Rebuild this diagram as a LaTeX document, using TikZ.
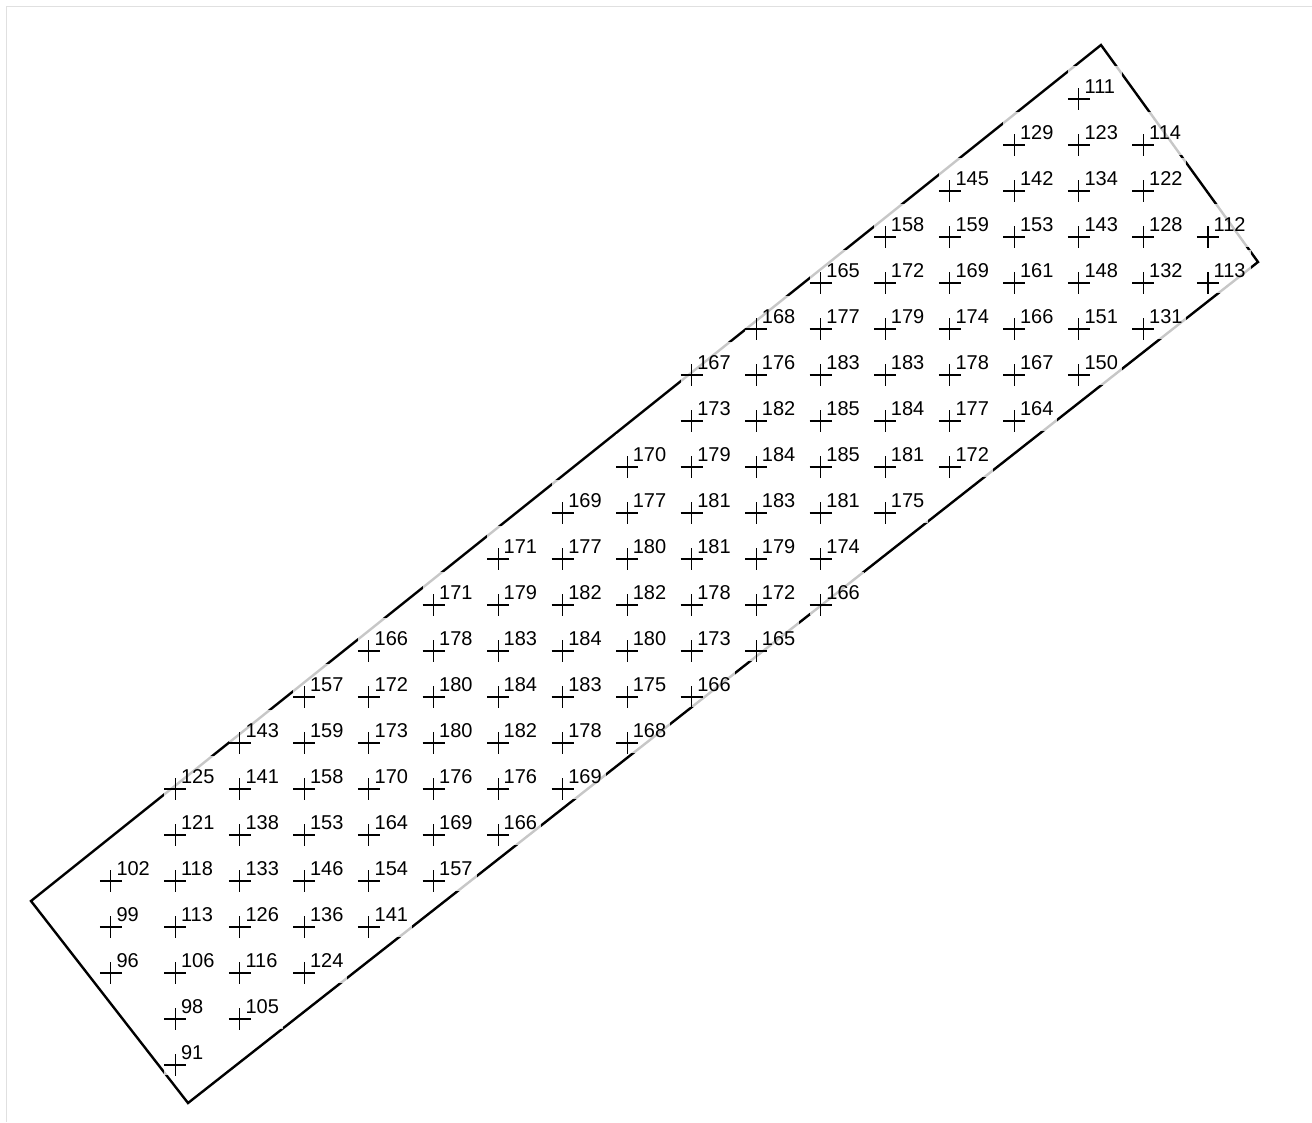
\documentclass[tikz,border=0pt]{standalone}
\usepackage{fontspec}
\setmainfont{Liberation Sans}
\begin{document}
\begin{tikzpicture}[x=1pt,y=-1pt,
  framecol/.style={draw=black!12,line width=1pt},
  border/.style={draw=black,line width=2.4pt,line join=miter},
  boxfill/.style={fill=white,fill opacity=0.78},
  plusmark/.style={draw=black,line width=1.05pt},
  lbl/.style={anchor=base west,inner sep=0pt,font=\fontsize{20}{24}\selectfont}]
\useasboundingbox (0,0) rectangle (1312,1122);
\fill[white] (0,0) rectangle (1312,1122);
\coordinate (fa) at (6,1122);
\coordinate (fb) at (6,6);
\coordinate (fc) at (1312,6);
\draw[framecol] (fa) -- (fb) -- (fc);
\coordinate (T) at (1101,45);
\coordinate (R) at (1258,262);
\coordinate (B) at (188,1103);
\coordinate (L) at (31,901);
\draw[border] (T) -- (R) -- (B) -- (L) -- cycle;
\foreach \c/\r/\v in {
15/0/111,
14/1/129, 15/1/123, 16/1/114,
13/2/145, 14/2/142, 15/2/134, 16/2/122,
12/3/158, 13/3/159, 14/3/153, 15/3/143, 16/3/128, 17/3/112,
11/4/165, 12/4/172, 13/4/169, 14/4/161, 15/4/148, 16/4/132, 17/4/113,
10/5/168, 11/5/177, 12/5/179, 13/5/174, 14/5/166, 15/5/151, 16/5/131,
9/6/167, 10/6/176, 11/6/183, 12/6/183, 13/6/178, 14/6/167, 15/6/150,
9/7/173, 10/7/182, 11/7/185, 12/7/184, 13/7/177, 14/7/164,
8/8/170, 9/8/179, 10/8/184, 11/8/185, 12/8/181, 13/8/172,
7/9/169, 8/9/177, 9/9/181, 10/9/183, 11/9/181, 12/9/175,
6/10/171, 7/10/177, 8/10/180, 9/10/181, 10/10/179, 11/10/174,
5/11/171, 6/11/179, 7/11/182, 8/11/182, 9/11/178, 10/11/172, 11/11/166,
4/12/166, 5/12/178, 6/12/183, 7/12/184, 8/12/180, 9/12/173, 10/12/165,
3/13/157, 4/13/172, 5/13/180, 6/13/184, 7/13/183, 8/13/175, 9/13/166,
2/14/143, 3/14/159, 4/14/173, 5/14/180, 6/14/182, 7/14/178, 8/14/168,
1/15/125, 2/15/141, 3/15/158, 4/15/170, 5/15/176, 6/15/176, 7/15/169,
1/16/121, 2/16/138, 3/16/153, 4/16/164, 5/16/169, 6/16/166,
0/17/102, 1/17/118, 2/17/133, 3/17/146, 4/17/154, 5/17/157,
0/18/99, 1/18/113, 2/18/126, 3/18/136, 4/18/141,
0/19/96, 1/19/106, 2/19/116, 3/19/124,
1/20/98, 2/20/105,
1/21/91}{
  \pgfmathsetmacro\px{110.8+64.54*\c}
  \pgfmathsetmacro\py{99+46*\r}
  \coordinate (p-\c-\r) at (\px,\py);
  \fill[boxfill] (\px-11,\py-33) rectangle (\px+43,\py+10);
  \draw[plusmark] (\px-11,\py) -- (\px+11,\py) (\px,\py-11) -- (\px,\py+11);
  \node[lbl] (v-\c-\r) at (\px+5.5,\py-6) {\v};
}
\end{tikzpicture}
\end{document}
